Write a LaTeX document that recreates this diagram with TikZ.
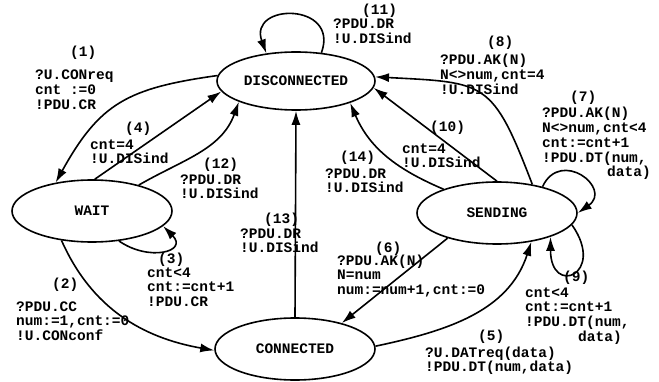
\documentclass[tikz,border=0pt]{standalone}
\usepackage{fontspec}
\newfontfamily\courfont{Liberation Mono}
\usetikzlibrary{shapes,arrows.meta,positioning}

\begin{document}
\begin{tikzpicture}[x=1pt,y=1pt,
    every node/.style={font=\fontsize{14.5}{14.7}\selectfont\courfont\bfseries,inner sep=0pt},
    state/.style={ellipse,draw,line width=1.6pt,minimum width=160pt,minimum height=62pt},
    lbl/.style={align=left,anchor=base west},
    num/.style={anchor=base west},
    tr/.style={line width=1.6pt,-{Latex[length=14pt,width=9pt]}}]
      \useasboundingbox (0,0) rectangle (659,381);
      \node[state,minimum width=158pt,minimum height=58pt](disc) at (296,300){DISCONNECTED};
      \node[state](wait) at (92,170){WAIT};
      \node[state](conn) at (295,32){CONNECTED};
      \node[state](send) at (497,168){SENDING};

      \node[num](n1) at (70,324){(1)};
      \node[lbl](t1) at (35,271.6){?U.CONreq\\cnt :=0\\!PDU.CR};
      \node[num](n2) at (52,93){(2)};
      \node[lbl](t2) at (16,40.6){?PDU.CC\\num:=1,cnt:=0\\!U.CONconf};
      \node[num](n3) at (158,118){(3)};
      \node[lbl](t3) at (147,74.6){cnt<4\\cnt:=cnt+1\\!PDU.CR};
      \node[num](n4) at (125,248){(4)};
      \node[lbl](t4) at (90,217.3){cnt=4\\!U.DISind};
      \node[num](n5) at (478,41){(5)};
      \node[lbl](t5) at (425,9.3){?U.DATreq(data)\\!PDU.DT(num,data)};
      \node[num](n6) at (375,129){(6)};
      \node[lbl](t6) at (337,86.6){?PDU.AK(N)\\N=num\\num:=num+1,cnt:=0};
      \node[num](n7) at (570,279){(7)};
      \node[lbl](t7) at (542,204.2){?PDU.AK(N)\\N<>num,cnt<4\\cnt:=cnt+1\\!PDU.DT(num,\\\hspace*{65pt}data)};
      \node[num](n8) at (487,334){(8)};
      \node[lbl](t8) at (440,286.6){?PDU.AK(N)\\N<>num,cnt=4\\!U.DISind};
      \node[num](n9) at (563,100){(9)};
      \node[lbl](t9) at (525,39.9){cnt<4\\cnt:=cnt+1\\!PDU.DT(num,\\\hspace*{53pt}data)};
      \node[num](n10) at (430,249){(10)};
      \node[lbl](t10) at (402,213.3){cnt=4\\!U.DISind};
      \node[num](n11) at (362,366){(11)};
      \node[lbl](t11) at (333,337.3){?PDU.DR\\!U.DISind};
      \node[num](n12) at (203,213){(12)};
      \node[lbl](t12) at (180,182.3){?PDU.DR\\!U.DISind};
      \node[num](n13) at (264,158){(13)};
      \node[lbl](t13) at (240,128.3){?PDU.DR\\!U.DISind};
      \node[num](n14) at (340,219){(14)};
      \node[lbl](t14) at (325,188.3){?PDU.DR\\!U.DISind};

      \draw[tr] (disc.176) to[out=188,in=61,looseness=1.2] (wait.142);
      \draw[tr] (wait.224) to[out=-66,in=170] (conn.181);
      \draw[tr] (wait.312) to[out=-35,in=-45,looseness=2] (wait.348);
      \draw[tr] (wait.85) -- (disc.188);
      \draw[tr] (conn.2) to[out=12,in=-108] (send.-40);
      \draw[tr] (send.207) -- (conn.29);
      \draw[tr] (send.30) to[out=65,in=35,looseness=2.5] (send.0);
      \draw[tr] (send.39) to[out=111,in=-3,looseness=1.5] (disc.3);
      \draw[tr] (send.-9) to[out=-55,in=-90,looseness=6.3] (send.-24);
      \draw[tr] (send.90) -- (disc.355);
      \draw[tr] (disc.48) to[out=70,in=110,looseness=2.5] (disc.137);
      \draw[tr] (wait.29) to[out=30,in=-110] (disc.200);
      \draw[tr] (conn.north) -- (disc.south);
      \draw[tr] (send.156) to[out=157,in=-67] (disc.338);

\end{tikzpicture}
\end{document}
